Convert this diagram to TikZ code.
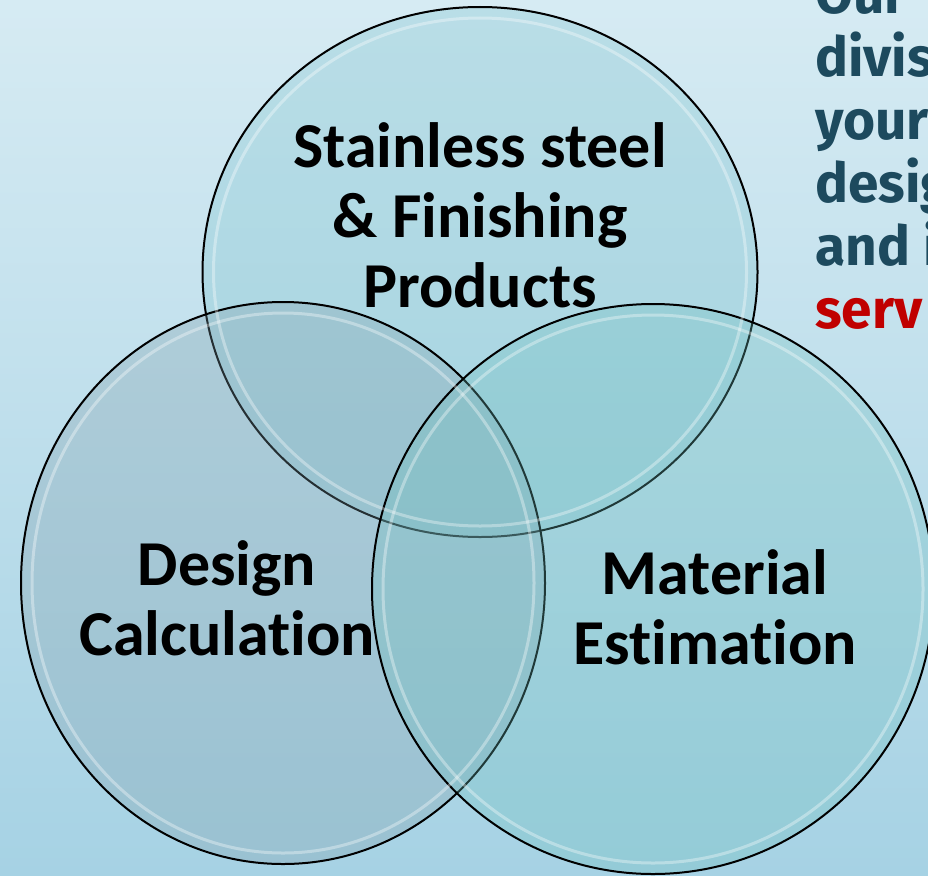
\documentclass[tikz,border=0pt]{standalone}
\usepackage{fontspec}
\setmainfont[Ligatures=NoCommon]{Carlito}
\newfontfamily\dinfont{Fira Sans}
\usetikzlibrary{shapes.geometric}
\definecolor{bgtop}{RGB}{214,235,243}
\definecolor{bgbottom}{RGB}{166,210,228}
\definecolor{steelfill}{RGB}{121,193,204}
\definecolor{designfill}{RGB}{125,156,169}
\definecolor{matfill}{RGB}{107,189,188}
\definecolor{dintext}{RGB}{29,74,94}
\definecolor{servred}{RGB}{192,0,0}

\begin{document}
\begin{tikzpicture}
				[
					x = 1pt, y = -1pt,
					bubble/.style = {ellipse, draw = black, line width = 2pt, inner sep = 0pt, outer sep = 0pt, fill opacity = 0.3},
					shine/.style = {ellipse, draw = white, draw opacity = 0.35, line width = 3pt, inner sep = 0pt},
					venntext/.style = {font = \fontsize{64}{70}\selectfont\bfseries, align = center, anchor = base}
				]
				\useasboundingbox (0,0) rectangle (928,875);
				\clip (0,0) rectangle (928,875);
				\fill[top color = bgtop, bottom color = bgbottom] (0,0) rectangle (928,875);
				\node[bubble, fill = steelfill, minimum width = 555pt, minimum height = 530pt] (steel) at (480,272) {};
				\node[bubble, fill = designfill, minimum width = 524pt, minimum height = 562pt] (design) at (283,583) {};
				\node[bubble, fill = matfill, minimum width = 562pt, minimum height = 570pt] (material) at (653,589) {};
				\node[shine, minimum width = 533pt, minimum height = 508pt] (steelshine) at (steel.center) {};
				\node[shine, minimum width = 502pt, minimum height = 540pt] (designshine) at (design.center) {};
				\node[shine, minimum width = 540pt, minimum height = 548pt] (materialshine) at (material.center) {};
				\node[venntext] (steeltext) at (480,307) {Stainless steel\\ \& Finishing\\ Products};
				\node[venntext] (designtext) at (227,655) {Design\\ Calculation};
				\node[venntext] (materialtext) at (715,664) {Material\\ Estimation};
				\node[font = \dinfont\fontsize{55}{63}\selectfont\bfseries, text = dintext, align = left, anchor = base west, inner sep = 0pt] (pitch) at (815,328) {Our\\ divis\\ your\\ desig\\ and i\\ \textcolor{servred}{serv}};
		\end{tikzpicture}
\end{document}
